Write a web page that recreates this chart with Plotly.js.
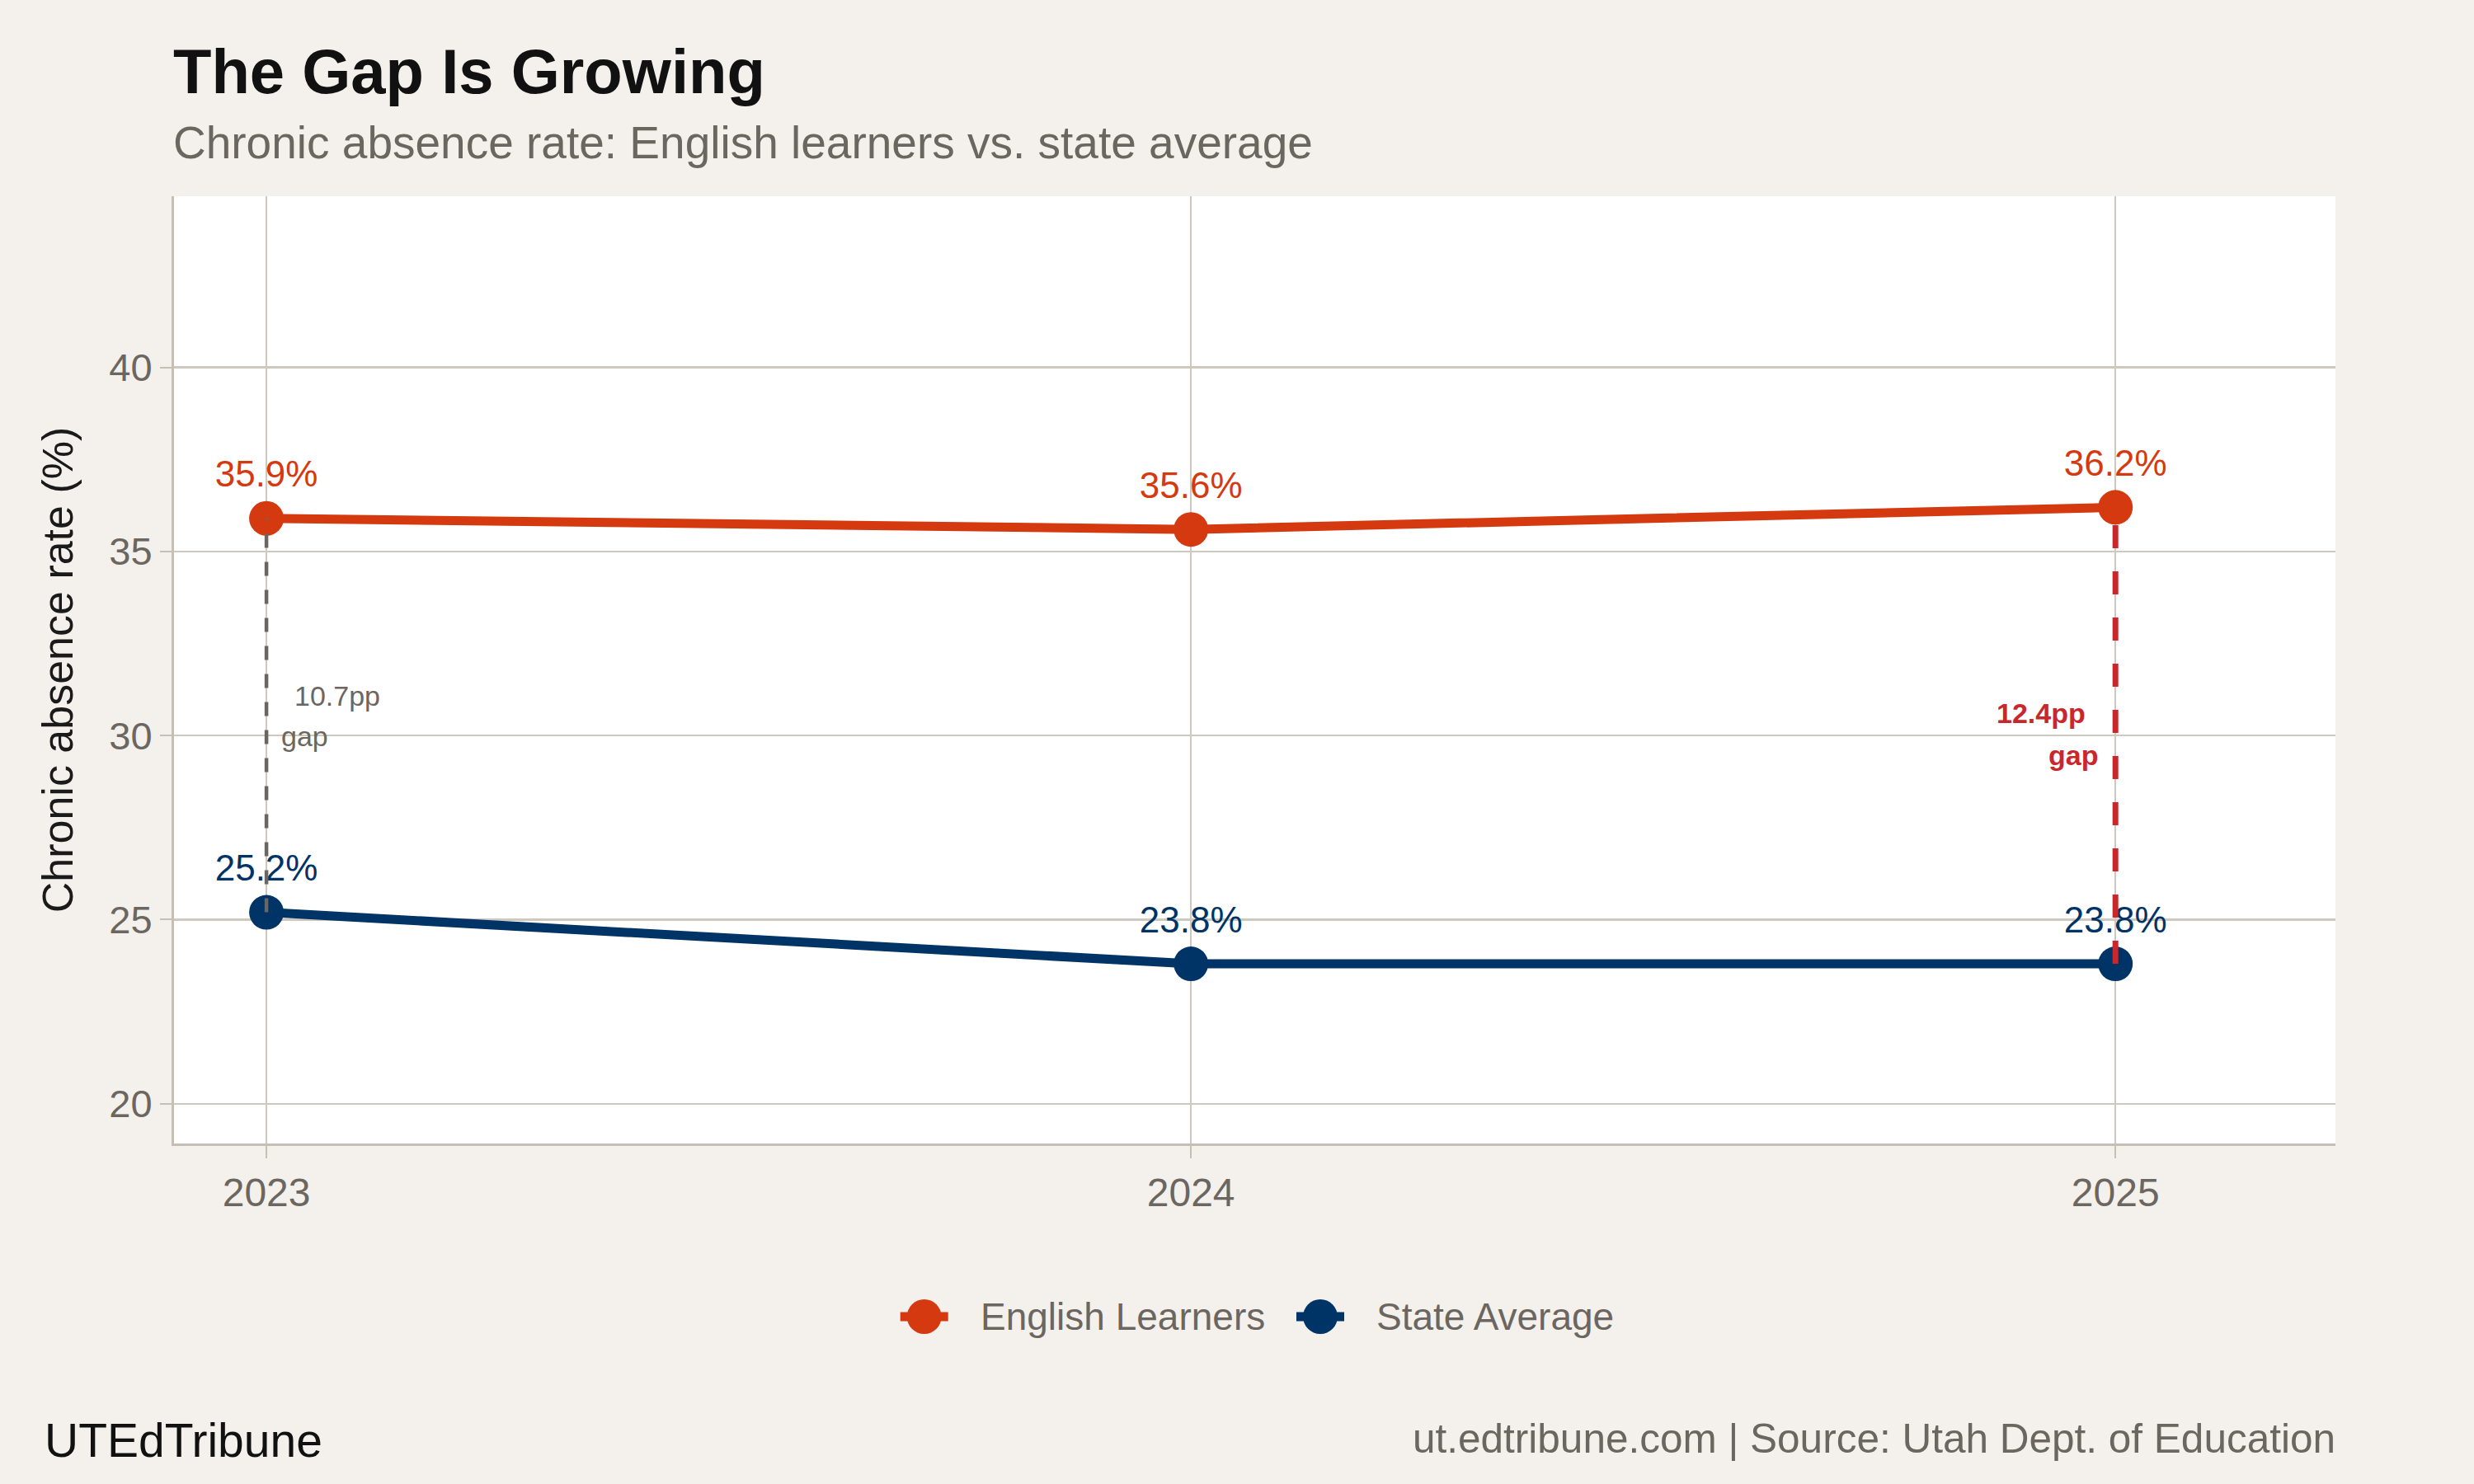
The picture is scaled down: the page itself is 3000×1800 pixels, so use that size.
<!DOCTYPE html>
<html>
<head>
<meta charset="utf-8">
<script src="https://cdn.plot.ly/plotly-3.0.1.min.js"></script>
<style>
  html, body { margin: 0; padding: 0; background: #f4f1ec; }
  #chart { width: 3000px; height: 1800px; }
</style>
</head>
<body>
<div id="chart"></div>
<script>
// Chronic absence rate (%) by school year
const years = [2023, 2024, 2025];
const englishLearners = [35.9, 35.6, 36.2];
const stateAverage = [25.2, 23.8, 23.8];
const seriesNames = ['English Learners', 'State Average'];
const yTicks = [20, 25, 30, 35, 40];
const xTickLabels = ['2023', '2024', '2025'];

// Palette and fonts
const FONT = '"Liberation Sans", Arial, Helvetica, sans-serif';
const BG = '#f4f1ec';
const GRID = '#cfc8bf';
const AXIS = '#c6bfb5';
const MUTED = '#6b6660';
const SERIES_COLORS = ['#d4390f', '#003366'];
const GAP_RED = '#c8282c';

const W = 3000, H = 1800;
const M = { l: 211, r: 168, t: 238, b: 413 };
const plotW = W - M.l - M.r, plotH = H - M.t - M.b;
const px = x => (x - M.l) / plotW;          // page x -> paper x
const py = y => (H - M.b - y) / plotH;      // page y -> paper y

const seriesValues = [englishLearners, stateAverage];

const traces = seriesValues.map((vals, i) => ({
  type: 'scatter',
  mode: 'lines+markers+text',
  name: seriesNames[i],
  x: years,
  y: vals,
  text: vals.map(v => v.toFixed(1) + '%'),
  textposition: 'top center',
  textfont: { family: FONT, size: 44, color: SERIES_COLORS[i] },
  line: { color: SERIES_COLORS[i], width: 11 },
  marker: { color: SERIES_COLORS[i], size: 42 },
  hoverinfo: 'skip',
  cliponaxis: false,
  showlegend: false
}));

// Gap markers between the two series for the first and last year
const firstIdx = 0, lastIdx = years.length - 1;
const gapFirst = (englishLearners[firstIdx] - stateAverage[firstIdx]).toFixed(1) + 'pp';
const gapLast = (englishLearners[lastIdx] - stateAverage[lastIdx]).toFixed(1) + 'pp';
const midFirst = (englishLearners[firstIdx] + stateAverage[firstIdx]) / 2;
const midLast = (englishLearners[lastIdx] + stateAverage[lastIdx]) / 2;

const shapes = [
  {
    type: 'line', layer: 'above', xref: 'x', yref: 'y',
    x0: years[firstIdx], x1: years[firstIdx],
    y0: stateAverage[firstIdx], y1: englishLearners[firstIdx],
    line: { color: MUTED, width: 4.5, dash: '17px,17px' }
  },
  {
    type: 'line', layer: 'above', xref: 'x', yref: 'y',
    x0: years[lastIdx], x1: years[lastIdx],
    y0: stateAverage[lastIdx], y1: englishLearners[lastIdx],
    line: { color: GAP_RED, width: 7, dash: '28px,28px' }
  }
];

const annotations = [
  // gap labels
  { xref: 'x', yref: 'y', x: years[firstIdx], y: midFirst, text: gapFirst,
    xanchor: 'left', yanchor: 'middle', xshift: 32, yshift: 24, showarrow: false,
    font: { family: FONT, size: 34, color: MUTED } },
  { xref: 'x', yref: 'y', x: years[firstIdx], y: midFirst, text: 'gap',
    xanchor: 'left', yanchor: 'middle', xshift: 16, yshift: -25, showarrow: false,
    font: { family: FONT, size: 34, color: MUTED } },
  { xref: 'x', yref: 'y', x: years[lastIdx], y: midLast, text: '<b>' + gapLast + '</b>',
    xanchor: 'right', yanchor: 'middle', xshift: -34, yshift: 27, showarrow: false,
    font: { family: FONT, size: 34, color: GAP_RED } },
  { xref: 'x', yref: 'y', x: years[lastIdx], y: midLast, text: '<b>gap</b>',
    xanchor: 'right', yanchor: 'middle', xshift: -19, yshift: -24, showarrow: false,
    font: { family: FONT, size: 34, color: GAP_RED } },
  // title and subtitle
  { xref: 'paper', yref: 'paper', x: 0, y: py(86.7), xanchor: 'left', yanchor: 'middle',
    xshift: -3, showarrow: false, text: '<b>The Gap Is Growing</b>',
    font: { family: FONT, size: 76, color: '#111111' } },
  { xref: 'paper', yref: 'paper', x: 0, y: py(173), xanchor: 'left', yanchor: 'middle',
    xshift: -3, showarrow: false, text: 'Chronic absence rate: English learners vs. state average',
    font: { family: FONT, size: 55, color: MUTED } },
  // captions
  { xref: 'paper', yref: 'paper', x: px(54), y: py(1747), xanchor: 'left', yanchor: 'middle',
    xshift: -2, showarrow: false, text: 'UTEdTribune',
    font: { family: FONT, size: 57, color: '#111111' } },
  { xref: 'paper', yref: 'paper', x: 1, y: py(1744), xanchor: 'right', yanchor: 'middle',
    xshift: 2, showarrow: false, text: 'ut.edtribune.com | Source: Utah Dept. of Education',
    font: { family: FONT, size: 49.5, color: MUTED } }
];

// Legend below the plot, drawn with large swatches
const legendY = py(1597);
const legendCenters = [1120.7, 1601];
seriesNames.forEach((name, i) => {
  const cx = px(legendCenters[i]);
  shapes.push({
    type: 'line', xref: 'paper', yref: 'paper', xsizemode: 'pixel', ysizemode: 'pixel',
    xanchor: cx, yanchor: legendY, x0: -29, x1: 29, y0: 0, y1: 0,
    line: { color: SERIES_COLORS[i], width: 11 }
  });
  shapes.push({
    type: 'circle', xref: 'paper', yref: 'paper', xsizemode: 'pixel', ysizemode: 'pixel',
    xanchor: cx, yanchor: legendY, x0: -21, x1: 21, y0: -21, y1: 21,
    fillcolor: SERIES_COLORS[i], line: { width: 0 }
  });
  annotations.push({
    xref: 'paper', yref: 'paper', x: cx, y: legendY, xanchor: 'left', yanchor: 'middle',
    xshift: 66, showarrow: false, text: name,
    font: { family: FONT, size: 46, color: MUTED }
  });
});

const layout = {
  width: W, height: H,
  margin: M,
  paper_bgcolor: BG,
  plot_bgcolor: '#ffffff',
  font: { family: FONT, color: MUTED },
  showlegend: false,
  xaxis: {
    range: [2022.9, 2025.238],
    tickmode: 'array', tickvals: years, ticktext: xTickLabels,
    showgrid: true, gridcolor: GRID, gridwidth: 2.5,
    zeroline: false,
    showline: true, linecolor: AXIS, linewidth: 3,
    ticks: 'outside', ticklen: 15, tickwidth: 2, tickcolor: AXIS,
    tickfont: { family: FONT, size: 48, color: MUTED },
    fixedrange: true
  },
  yaxis: {
    range: [18.92, 44.65],
    tickmode: 'array', tickvals: yTicks, ticktext: yTicks.map(String),
    showgrid: true, gridcolor: GRID, gridwidth: 2.5,
    zeroline: false,
    showline: true, linecolor: AXIS, linewidth: 3,
    ticks: 'outside', ticklen: 14, tickwidth: 2, tickcolor: AXIS,
    tickfont: { family: FONT, size: 47, color: MUTED },
    title: { text: 'Chronic absence rate (%)', standoff: 28,
             font: { family: FONT, size: 52, color: '#1a1a1a' } },
    fixedrange: true
  },
  shapes: shapes,
  annotations: annotations
};

Plotly.newPlot('chart', traces, layout, { displayModeBar: false, staticPlot: true });
</script>
</body>
</html>
